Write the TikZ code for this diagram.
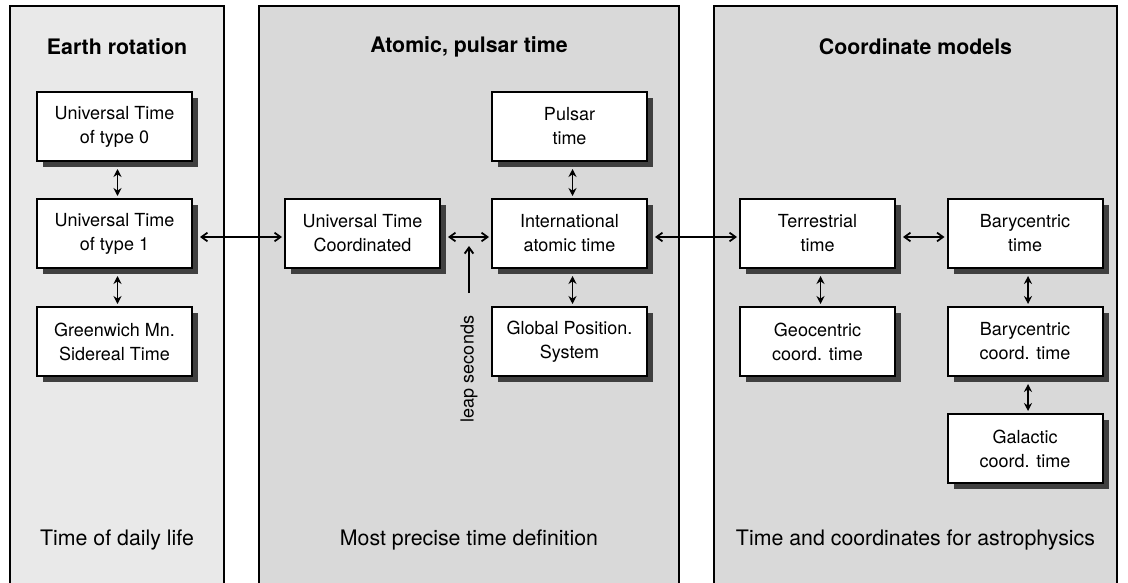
\documentclass[tikz,border=0pt]{standalone}
\usepackage{fontspec}
\setmainfont{TeX Gyre Heros}
\usetikzlibrary{arrows.meta,shadows,calc}
\definecolor{panellight}{HTML}{E9E9E9}
\definecolor{paneldark}{HTML}{D9D9D9}
\definecolor{shadowgray}{HTML}{404040}
\tikzset{
  panel/.style={draw=black, line width=1.5pt},
  tbox/.style={draw=black, fill=white, line width=1.5pt, minimum width=116.25pt, minimum height=51.75pt,
    align=center, inner sep=0pt, font=\fontsize{13.5}{18}\selectfont,
    drop shadow={shadow xshift=4.5pt, shadow yshift=-4.5pt, fill=shadowgray, opacity=1}},
  title/.style={font=\fontsize{16}{19}\selectfont\bfseries},
  foot/.style={font=\fontsize{16}{19}\selectfont},
  conn/.style={line width=1.3pt, {Straight Barb[length=4.5pt,width=6.5pt]}-{Straight Barb[length=4.5pt,width=6.5pt]}},
  vconn/.style={line width=1.4pt, {Stealth[length=6pt,width=6pt,inset=2pt]}-{Stealth[length=6pt,width=6pt,inset=2pt]}},
  oneway/.style={line width=1.4pt, -{Straight Barb[length=4.5pt,width=6.5pt]}}
}
\begin{document}
\begin{tikzpicture}[x=0.75pt,y=-0.75pt]
\useasboundingbox (0,0) rectangle (1128,582);
\clip (0,0) rectangle (1128,582);
% panels
\fill[panellight] (10,6) rectangle (224,600);
\fill[paneldark] (259,6) rectangle (679,600);
\fill[paneldark] (714,6) rectangle (1117,600);
\draw[panel] (10,600) -- (10,6) -- (224,6) -- (224,600);
\draw[panel] (259,600) -- (259,6) -- (679,6) -- (679,600);
\draw[panel] (714,600) -- (714,6) -- (1117,6) -- (1117,600);
% titles
\node[title] (t1) at (117,47) {Earth rotation};
\node[title] (t2) at (469,47) {Atomic, pulsar time};
\node[title] (t3) at (915.5,47) {Coordinate models};
\node[foot] (f1) at (117,540) {Time of daily life};
\node[foot] (f2) at (469,540) {Most precise time definition};
\node[foot] (f3) at (915.5,540) {Time and coordinates for astrophysics};
% boxes
\node[tbox] (ut0) at (114.5,126.5) {Universal Time\\of type 0};
\node[tbox] (ut1) at (114.5,233.5) {Universal Time\\of type 1};
\node[tbox] (gmst) at (114.5,341.5) {Greenwich Mn.\\Sidereal Time};
\node[tbox] (utc) at (362.5,233.5) {Universal Time\\Coordinated};
\node[tbox] (pul) at (569.5,126.5) {Pulsar\\time};
\node[tbox] (tai) at (569.5,233.5) {International\\atomic time};
\node[tbox] (gps) at (569.5,341.5) {Global Position.\\System};
\node[tbox] (tt) at (817.5,233.5) {Terrestrial\\time};
\node[tbox] (gct) at (817.5,341.5) {Geocentric\\coord. time};
\node[tbox] (bt) at (1025,233.5) {Barycentric\\time};
\node[tbox] (bct) at (1025,341.5) {Barycentric\\coord. time};
\node[tbox] (galct) at (1025,448.5) {Galactic\\coord. time};
% vertical connectors
\draw[vconn] ($(ut0.south)+(3,7)$) -- ($(ut1.north)+(3,-2)$);
\draw[vconn] ($(ut1.south)+(3,7)$) -- ($(gmst.north)+(3,-2)$);
\draw[vconn] ($(pul.south)+(3,7)$) -- ($(tai.north)+(3,-2)$);
\draw[vconn] ($(tai.south)+(3,7)$) -- ($(gps.north)+(3,-2)$);
\draw[vconn] ($(tt.south)+(3,7)$) -- ($(gct.north)+(3,-2)$);
\draw[vconn] ($(bt.south)+(3,7)$) -- ($(bct.north)+(3,-2)$);
\draw[vconn] ($(bct.south)+(3,7)$) -- ($(galct.north)+(3,-2)$);
% horizontal connectors
\draw[conn] ($(ut1.east)+(7,3.5)$) -- ($(utc.west)+(-2,3.5)$);
\draw[conn] ($(utc.east)+(7,3.5)$) -- ($(tai.west)+(-2,3.5)$);
\draw[conn] ($(tai.east)+(7,3.5)$) -- ($(tt.west)+(-2,3.5)$);
\draw[conn] ($(tt.east)+(7,3.5)$) -- ($(bt.west)+(-2,3.5)$);
% leap seconds
\node[rotate=90, font=\fontsize{13.5}{18}\selectfont] (leap) at (469,369) {leap seconds};
\coordinate (leapbase) at (469,293);
\coordinate (leaptip) at (469,246);
\draw[oneway] (leapbase) -- (leaptip);
\end{tikzpicture}
\end{document}
